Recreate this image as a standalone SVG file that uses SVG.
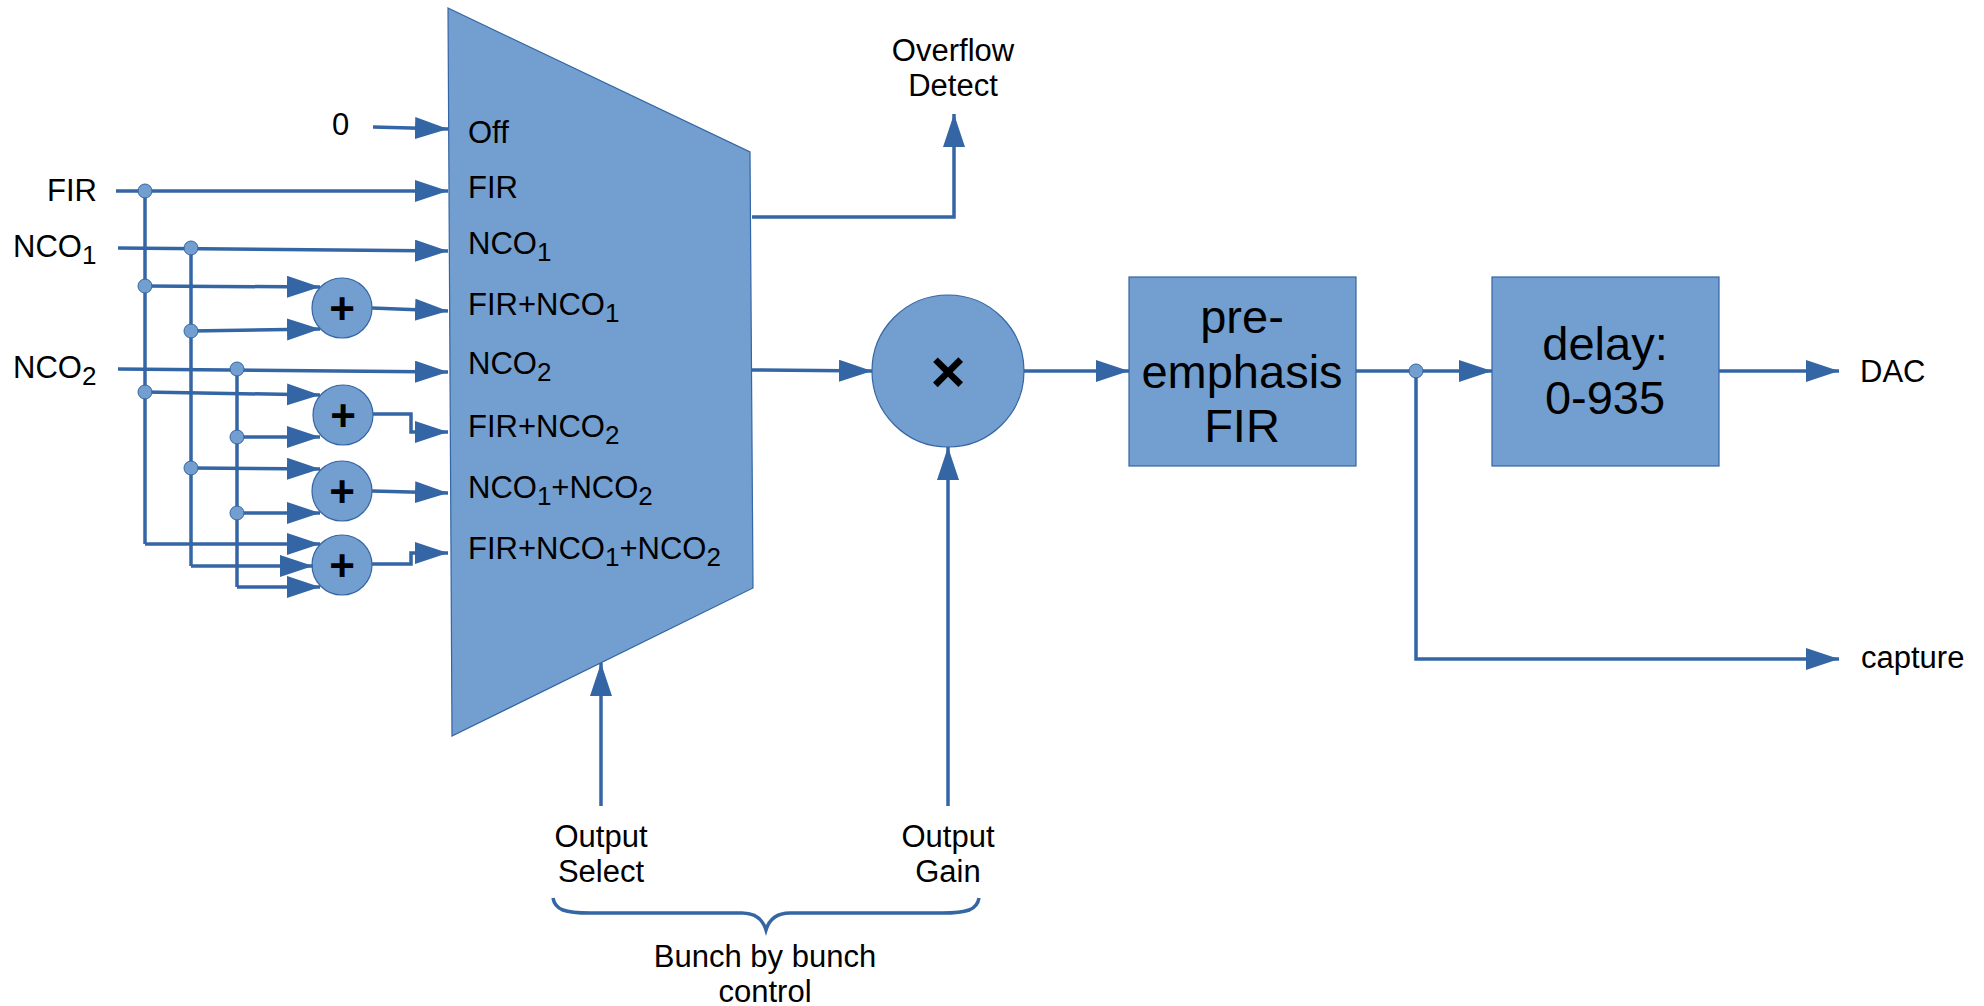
<svg xmlns="http://www.w3.org/2000/svg" width="1984" height="1006" viewBox="0 0 1984 1006">
<style>
text{font-family:"Liberation Sans",Arial,sans-serif;fill:#000}
.lbl{font-size:31px}
.sub{font-size:26px}
.big{font-size:47px;text-anchor:middle}
.mid{text-anchor:middle}
.sym{font-weight:bold;text-anchor:middle}
.shape{fill:#729fcf;stroke:#3465a4;stroke-width:1.2}
.wire{fill:none;stroke:#3465a4;stroke-width:3.5;stroke-linejoin:miter}
.arr{marker-end:url(#ah)}
.dot{fill:#729fcf;stroke:#3465a4;stroke-width:1}
</style>
<defs>
<marker id="ah" markerUnits="userSpaceOnUse" markerWidth="34" markerHeight="24" refX="33" refY="11" orient="auto">
<path d="M0,0 L33,11 L0,22 z" fill="#3465a4"/>
</marker>
</defs>

<g id="mux">
<polygon class="shape" points="448,8 750,152 753,588 452,736"/>
<text class="lbl" x="468" y="143">Off</text>
<text class="lbl" x="468" y="198">FIR</text>
<text class="lbl" x="468" y="254">NCO<tspan class="sub" dy="7">1</tspan></text>
<text class="lbl" x="468" y="315">FIR+NCO<tspan class="sub" dy="7">1</tspan></text>
<text class="lbl" x="468" y="374">NCO<tspan class="sub" dy="7">2</tspan></text>
<text class="lbl" x="468" y="437">FIR+NCO<tspan class="sub" dy="7">2</tspan></text>
<text class="lbl" x="468" y="498">NCO<tspan class="sub" dy="7">1</tspan><tspan dy="-7">+NCO</tspan><tspan class="sub" dy="7">2</tspan></text>
<text class="lbl" x="468" y="559">FIR+NCO<tspan class="sub" dy="7">1</tspan><tspan dy="-7">+NCO</tspan><tspan class="sub" dy="7">2</tspan></text>
</g>

<g id="sum1"><circle class="shape" cx="342" cy="308" r="30"/><text class="sym" x="342" y="324" font-size="44">+</text></g>
<g id="sum2"><circle class="shape" cx="343" cy="415" r="30"/><text class="sym" x="343" y="431" font-size="44">+</text></g>
<g id="sum3"><circle class="shape" cx="342" cy="491" r="30"/><text class="sym" x="342" y="507" font-size="44">+</text></g>
<g id="sum4"><circle class="shape" cx="342" cy="565" r="30"/><text class="sym" x="342" y="581" font-size="44">+</text></g>

<g id="mult"><circle class="shape" cx="948" cy="371" r="76"/><text class="sym" x="948" y="392" font-size="60">×</text></g>

<g id="preemph">
<rect class="shape" x="1129" y="277" width="227" height="189"/>
<text class="big" x="1242" y="333">pre-</text>
<text class="big" x="1242" y="388">emphasis</text>
<text class="big" x="1242" y="442">FIR</text>
</g>

<g id="delay">
<rect class="shape" x="1492" y="277" width="227" height="189"/>
<text class="big" x="1605" y="360">delay:</text>
<text class="big" x="1605" y="414">0-935</text>
</g>

<g id="labels">
<text class="lbl" x="332" y="135">0</text>
<text class="lbl" x="47" y="201">FIR</text>
<text class="lbl" x="13" y="257">NCO<tspan class="sub" dy="7">1</tspan></text>
<text class="lbl" x="13" y="378">NCO<tspan class="sub" dy="7">2</tspan></text>
<text class="lbl mid" x="953" y="61">Overflow</text>
<text class="lbl mid" x="953" y="96">Detect</text>
<text class="lbl" x="1860" y="382">DAC</text>
<text class="lbl" x="1861" y="668">capture</text>
<text class="lbl mid" x="601" y="847">Output</text>
<text class="lbl mid" x="601" y="882">Select</text>
<text class="lbl mid" x="948" y="847">Output</text>
<text class="lbl mid" x="948" y="882">Gain</text>
<text class="lbl mid" x="765" y="967">Bunch by bunch</text>
<text class="lbl mid" x="765" y="1002">control</text>
</g>

<g id="connectors">
<path class="wire arr" d="M373,127 L448,129"/>
<path class="wire arr" d="M116,191 L448,191"/>
<path class="wire arr" d="M118,248 L448,251"/>
<path class="wire arr" d="M118,369 L448,372"/>
<path class="wire" d="M145,191 L145,544"/>
<path class="wire" d="M191,248 L191,566"/>
<path class="wire" d="M237,369 L237,587"/>
<path class="wire arr" d="M145,286 L320,287"/>
<path class="wire arr" d="M191,331 L320,329"/>
<path class="wire arr" d="M145,392 L320,395"/>
<path class="wire arr" d="M237,437 L320,437"/>
<path class="wire arr" d="M191,468 L320,469"/>
<path class="wire arr" d="M237,513 L320,513"/>
<path class="wire arr" d="M145,544 L320,544"/>
<path class="wire arr" d="M191,566 L313,566"/>
<path class="wire arr" d="M237,587 L320,587"/>
<path class="wire arr" d="M372,308 L448,311"/>
<path class="wire arr" d="M373,414 L411,414 L411,432 L448,432"/>
<path class="wire arr" d="M372,491 L448,493"/>
<path class="wire arr" d="M372,564 L411,564 L411,553 L448,553"/>
<path class="wire arr" d="M752,217 L954,217 L954,114"/>
<path class="wire arr" d="M752,370 L872,371"/>
<path class="wire arr" d="M601,806 L601,663"/>
<path class="wire arr" d="M948,806 L948,447"/>
<path class="wire arr" d="M1024,371 L1129,371"/>
<path class="wire arr" d="M1356,371 L1492,371"/>
<path class="wire arr" d="M1719,371 L1839,371"/>
<path class="wire arr" d="M1416,371 L1416,659 L1839,659"/>
<path class="wire" d="M553,898 C555,910 565,913 590,913 L742,913 C756,913 763,920 766,930 C769,920 776,913 790,913 L942,913 C967,913 977,910 979,898"/>
<circle class="dot" cx="145" cy="191" r="7"/>
<circle class="dot" cx="191" cy="248" r="7"/>
<circle class="dot" cx="145" cy="286" r="7"/>
<circle class="dot" cx="191" cy="331" r="7"/>
<circle class="dot" cx="237" cy="369" r="7"/>
<circle class="dot" cx="145" cy="392" r="7"/>
<circle class="dot" cx="237" cy="437" r="7"/>
<circle class="dot" cx="191" cy="468" r="7"/>
<circle class="dot" cx="237" cy="513" r="7"/>
<circle class="dot" cx="1416" cy="371" r="7"/>
</g>
</svg>
